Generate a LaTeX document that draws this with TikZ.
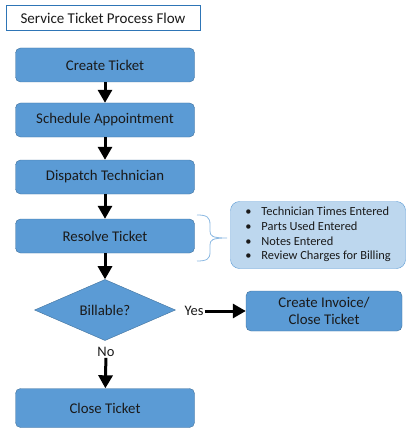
\documentclass[tikz,border=0pt]{standalone}
\usepackage{fontspec}
\setmainfont{Carlito}
\usetikzlibrary{arrows.meta,shapes.geometric}
\definecolor{boxblue}{HTML}{5B9BD5}
\definecolor{boxline}{HTML}{41719C}
\definecolor{notefill}{HTML}{BDD7EE}
\definecolor{titleline}{HTML}{2E75B6}
\definecolor{inktext}{HTML}{1A1A1A}

\begin{document}
\begin{tikzpicture}[x=1pt,y=-1pt,text=inktext,
    stepbox/.style={draw=boxline,fill=boxblue,rounded corners=5pt,minimum width=179pt,minimum height=34pt,font=\fontsize{14.8}{17}\selectfont},
    flow/.style={line width=3pt,-{Triangle[length=13pt,width=14pt]}},
    lbl/.style={inner sep=1pt,font=\fontsize{14.5}{17}\selectfont}]
    \useasboundingbox (0,0) rectangle (410,433);
    % title
    \node[draw=titleline,line width=1pt,fill=white,minimum width=194pt,minimum height=25pt,font=\fontsize{15}{17}\selectfont] (title) at (103,18) {Service Ticket Process Flow};
    % steps
    \node[stepbox] (create) at (105,65) {Create Ticket};
    \node[stepbox] (schedule) at (105,120) {Schedule Appointment};
    \node[stepbox] (dispatch) at (105,177) {Dispatch Technician};
    \node[stepbox] (resolve) at (105,236) {Resolve Ticket};
    \node[diamond,draw=boxline,fill=boxblue,inner sep=0pt,minimum width=141pt,minimum height=59pt,font=\fontsize{14.8}{17}\selectfont] (billable) at (105,310) {Billable?};
    \node[stepbox,minimum width=156pt,minimum height=40pt,align=center,font=\fontsize{14.8}{17.5}\selectfont] (invoice) at (324,311) {Create Invoice/\\Close Ticket};
    \node[stepbox,minimum height=39pt] (close) at (105,408) {Close Ticket};
    % notes
    \node[draw=boxblue,fill=notefill,rounded corners=9pt,minimum width=175pt,minimum height=67pt,font=\fontsize{12.4}{14.7}\selectfont] (notes) at (318,235) {%
        \begin{tabular}{@{}l@{\hspace{10pt}}l@{}}
            \textbullet & Technician Times Entered\\
            \textbullet & Parts Used Entered\\
            \textbullet & Notes Entered\\
            \textbullet & Review Charges for Billing
        \end{tabular}};
    \draw[boxblue!70,line width=0.8pt] (197,215) .. controls (207,215) and (210,217) .. (210,225) -- (210,231) .. controls (210,236) and (212,238) .. (227,238)
        .. controls (212,238) and (210,240) .. (210,245) -- (210,252) .. controls (210,259) and (207,261) .. (197,261);
    % labels
    \node[lbl] (yes) at (194,311) {Yes};
    \node[lbl] (no) at (106,352) {No};
    % arrows
    \draw[flow] (create) -- (schedule);
    \draw[flow] (schedule) -- (dispatch);
    \draw[flow] (dispatch) -- (resolve);
    \draw[flow] (resolve) -- (billable);
    \draw[flow] (yes) -- (invoice);
    \draw[flow] (no) -- (close);
\end{tikzpicture}
\end{document}
